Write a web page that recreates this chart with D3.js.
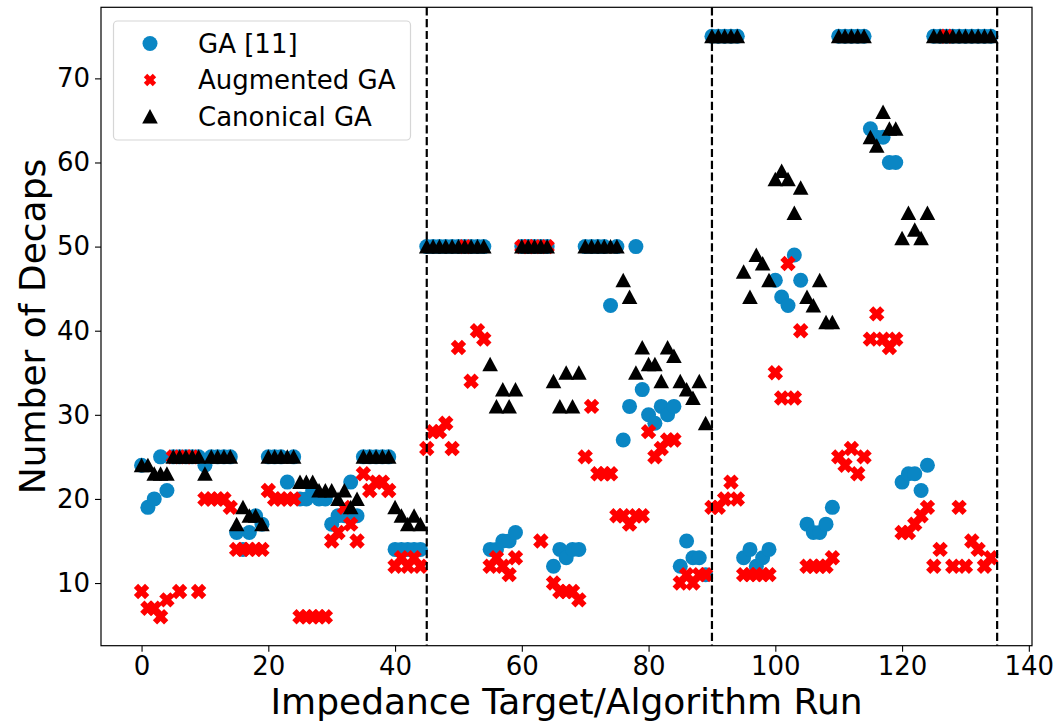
<!DOCTYPE html>
<html>
<head>
<meta charset="utf-8">
<script src="https://cdn.jsdelivr.net/npm/d3@7"></script>
<style>
  body { margin: 0; background: #fff; }
  text { font-family: "DejaVu Sans", sans-serif; fill: #000; }
</style>
</head>
<body>
<svg id="chart" width="1057" height="723"></svg>
<script>
// Decap counts per run; three impedance targets of 45 runs each.
const gaRef = [
  24, 19, 20, 25, 21, 25, 25, 25, 25, 25, 24, 25, 25, 25, 25, 16, 14, 16, 18, 17,
  25, 25, 25, 22, 25, 20, 20, 21, 20, 20, 17, 18, 18, 22, 18, 25, 25, 25, 25, 25,
  14, 14, 14, 14, 14,
  50, 50, 50, 50, 50, 50, 50, 50, 50, 50, 14, 14, 15, 15, 16, 50, 50, 50, 50, 50,
  12, 14, 13, 14, 14, 50, 50, 50, 50, 43, 50, 27, 31, 50, 33, 30, 29, 31, 30, 31,
  12, 15, 13, 13, 11,
  75, 75, 75, 75, 75, 13, 14, 12, 13, 14, 46, 44, 43, 49, 46, 17, 16, 16, 17, 19,
  75, 75, 75, 75, 75, 64, 63, 63, 60, 60, 22, 23, 23, 21, 24, 75, 75, 75, 75, 75,
  75, 75, 75, 75, 75
];
const augmentedGA = [
  9, 7, 7, 6, 8, 25, 9, 25, 25, 9, 20, 20, 20, 20, 19, 14, 14, 14, 14, 14,
  21, 20, 20, 20, 20, 6, 6, 6, 6, 6, 15, 16, 19, 17, 15, 23, 21, 22, 22, 21,
  12, 13, 12, 13, 12,
  26, 28, 28, 29, 26, 38, 50, 34, 40, 39, 12, 13, 12, 11, 13, 50, 50, 50, 15, 50,
  10, 9, 9, 9, 8, 25, 31, 23, 23, 23, 18, 18, 17, 18, 18, 28, 25, 26, 27, 27,
  10, 11, 10, 11, 11,
  19, 19, 20, 22, 20, 11, 11, 11, 11, 11, 35, 32, 48, 32, 40, 12, 12, 12, 12, 13,
  25, 24, 26, 23, 25, 39, 42, 39, 38, 39, 16, 16, 17, 18, 19, 12, 14, 75, 12, 19,
  12, 15, 14, 12, 13
];
const canonicalGA = [
  24, 24, 23, 23, 23, 25, 25, 25, 25, 25, 23, 25, 25, 25, 25, 17, 19, 18, 18, 17,
  25, 25, 25, 25, 25, 22, 22, 22, 21, 21, 21, 20, 21, 19, 20, 25, 25, 25, 25, 25,
  19, 18, 17, 18, 17,
  50, 50, 50, 50, 50, 50, 50, 50, 50, 50, 36, 31, 33, 31, 33, 50, 50, 50, 50, 50,
  34, 31, 35, 31, 35, 50, 50, 50, 50, 50, 50, 46, 44, 35, 38, 36, 36, 34, 38, 37,
  34, 33, 32, 34, 29,
  75, 75, 75, 75, 75, 47, 44, 49, 48, 46, 58, 59, 58, 54, 57, 44, 43, 46, 41, 41,
  75, 75, 75, 75, 75, 63, 62, 66, 64, 64, 51, 54, 52, 51, 54, 75, 75, 75, 75, 75,
  75, 75, 75, 75, 75
];
const targetBoundaries = [45, 90, 135];
const xTickValues = [0, 20, 40, 60, 80, 100, 120, 140];
const yTickValues = [10, 20, 30, 40, 50, 60, 70];
const seriesNames = ["GA [11]", "Augmented GA", "Canonical GA"];
const seriesColors = ["#0a86c4", "#ff0000", "#000000"];

const svg = d3.select("#chart");
const plot = { left: 101, right: 1032, top: 7.3, bottom: 645.7 };

const x = d3.scaleLinear().domain([-6.4, 140.5]).range([plot.left, plot.right]);
const y = d3.scaleLinear().domain([2.55, 78.45]).range([plot.bottom, plot.top]);

// Marker shapes
const circleR = 7.5;
const triPath = "M0,-7.5L7.8,7L-7.8,7Z";
const crossPath = (() => {
  const w = 3.0, L = 7.9;
  const pts = [[w, L], [w, w], [L, w], [L, -w], [w, -w], [w, -L], [-w, -L], [-w, -w], [-L, -w], [-L, w], [-w, w], [-w, L]];
  const c = Math.SQRT1_2;
  return "M" + pts.map(([a, b]) => [(a - b) * c, (a + b) * c].map(v => v.toFixed(2)).join(",")).join("L") + "Z";
})();

// Axes
const xAxis = d3.axisBottom(x).tickValues(xTickValues).tickSize(6).tickPadding(5);
const yAxis = d3.axisLeft(y).tickValues(yTickValues).tickSize(6).tickPadding(5);

const gx = svg.append("g").attr("transform", `translate(0,${plot.bottom})`).call(xAxis);
const gy = svg.append("g").attr("transform", `translate(${plot.left},0)`).call(yAxis);
[gx, gy].forEach(g => {
  g.select(".domain").remove();
  g.selectAll(".tick line").attr("stroke", "#000").attr("stroke-width", 1.1);
  g.selectAll(".tick text").attr("font-size", 26).attr("fill", "#000")
    .attr("font-family", "DejaVu Sans, sans-serif");
});

// Points: GA [11], then Augmented GA, then Canonical GA on top
const runIdx = gaRef.map((_, i) => i);
const marks = svg.append("g");
marks.selectAll("circle.ga").data(runIdx).join("circle")
  .attr("class", "ga")
  .attr("cx", i => x(i)).attr("cy", i => y(gaRef[i]))
  .attr("r", circleR).attr("fill", seriesColors[0]);
marks.selectAll("path.aug").data(runIdx).join("path")
  .attr("class", "aug")
  .attr("d", crossPath)
  .attr("transform", i => `translate(${x(i)},${y(augmentedGA[i])})`)
  .attr("fill", seriesColors[1]);
marks.selectAll("path.can").data(runIdx).join("path")
  .attr("class", "can")
  .attr("d", triPath)
  .attr("transform", i => `translate(${x(i)},${y(canonicalGA[i])})`)
  .attr("fill", seriesColors[2]);

// Dashed boundaries between impedance targets
svg.append("g").selectAll("line").data(targetBoundaries).join("line")
  .attr("x1", d => x(d)).attr("x2", d => x(d))
  .attr("y1", plot.top).attr("y2", plot.bottom)
  .attr("stroke", "#000").attr("stroke-width", 2.2)
  .attr("stroke-dasharray", "8.2,3.6");

// Frame
svg.append("rect")
  .attr("x", plot.left).attr("y", plot.top)
  .attr("width", plot.right - plot.left).attr("height", plot.bottom - plot.top)
  .attr("fill", "none").attr("stroke", "#000").attr("stroke-width", 1.2);

// Axis titles
svg.append("text")
  .attr("x", (plot.left + plot.right) / 2).attr("y", 714)
  .attr("text-anchor", "middle").attr("font-size", 36)
  .text("Impedance Target/Algorithm Run");
svg.append("text")
  .attr("transform", `translate(45,${(plot.top + plot.bottom) / 2}) rotate(-90)`)
  .attr("text-anchor", "middle").attr("font-size", 36)
  .text("Number of Decaps");

// Legend
const legend = svg.append("g");
legend.append("rect")
  .attr("x", 113.5).attr("y", 21).attr("width", 297).attr("height", 119)
  .attr("rx", 4).attr("fill", "#fff").attr("fill-opacity", 0.8)
  .attr("stroke", "#d6d6d6").attr("stroke-width", 1.2);
const rowY = [43.5, 80, 116.5];
seriesNames.forEach((name, k) => {
  const g = legend.append("g").attr("transform", `translate(150,${rowY[k]})`);
  if (k === 0) g.append("circle").attr("r", circleR).attr("fill", seriesColors[0]);
  if (k === 1) g.append("path").attr("d", crossPath).attr("transform", "scale(0.8)").attr("fill", seriesColors[1]);
  if (k === 2) g.append("path").attr("d", triPath).attr("fill", seriesColors[2]);
  legend.append("text")
    .attr("x", 198).attr("y", rowY[k]).attr("dy", "0.35em")
    .attr("font-size", 26).text(name);
});
</script>
</body>
</html>
